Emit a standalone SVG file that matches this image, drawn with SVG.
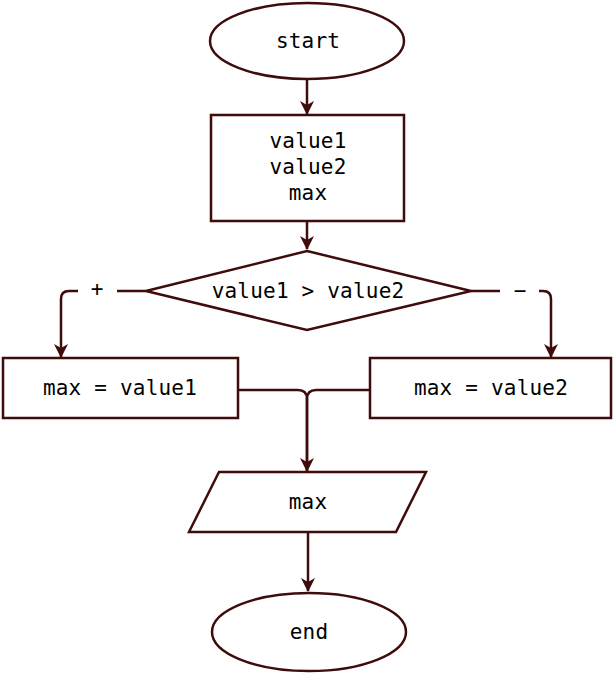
<svg xmlns="http://www.w3.org/2000/svg" width="613" height="673" viewBox="0 0 613 673">
<defs>
<style>
.s{fill:#fff;stroke:#3f0b0b;stroke-width:2.5}
.c{fill:none;stroke:#3f0b0b;stroke-width:2.5}
.t{font-family:"DejaVu Sans Mono","Liberation Mono",monospace;font-size:21px;letter-spacing:0.2px;fill:#000;text-anchor:middle;dominant-baseline:central}
</style>
<marker id="a" viewBox="0 0 14 14" refX="13" refY="7" markerWidth="15" markerHeight="14" markerUnits="userSpaceOnUse" orient="auto">
<path d="M0,0 L14,7 L0,14 L4,7 Z" fill="#3f0b0b"/>
</marker>
</defs>
<rect width="613" height="673" fill="#fff"/>
<g id="connectors">
<path class="c" d="M307,80 V114" marker-end="url(#a)"/>
<path class="c" d="M307,222 V249" marker-end="url(#a)"/>
<path class="c" d="M146,291 H69 Q61,291 61,299 V357" marker-end="url(#a)"/>
<path class="c" d="M471,291 H543 Q551,291 551,299 V357" marker-end="url(#a)"/>
<path class="c" d="M238,390 H298 Q307,390 307,399 V471" marker-end="url(#a)"/>
<path class="c" d="M370,390 H316 Q307,390 307,399 V471"/>
<path class="c" d="M308,532 V591" marker-end="url(#a)"/>
<rect x="78" y="280" width="39" height="22" fill="#fff"/>
<text class="t" x="97" y="289" style="letter-spacing:0">+</text>
<rect x="500" y="280" width="39" height="22" fill="#fff"/>
<text class="t" x="520" y="291" style="letter-spacing:0">−</text>
</g>
<g id="start">
<ellipse class="s" cx="307" cy="41" rx="97" ry="38"/>
<text class="t" x="308" y="41">start</text>
</g>
<g id="vars">
<rect class="s" x="211" y="115" width="193" height="106"/>
<text class="t" x="308" y="141">value1</text>
<text class="t" x="308" y="167">value2</text>
<text class="t" x="308" y="193">max</text>
</g>
<g id="cond">
<polygon class="s" points="307,251 471,291 307,330 146,291"/>
<text class="t" x="308" y="291">value1 &gt; value2</text>
</g>
<g id="left">
<rect class="s" x="3" y="358" width="235" height="60"/>
<text class="t" x="120" y="388">max = value1</text>
</g>
<g id="right">
<rect class="s" x="370" y="358" width="241" height="60"/>
<text class="t" x="491" y="388">max = value2</text>
</g>
<g id="out">
<polygon class="s" points="219,472 426,472 396,532 189,532"/>
<text class="t" x="308" y="502">max</text>
</g>
<g id="end">
<ellipse class="s" cx="309" cy="632" rx="97" ry="39"/>
<text class="t" x="309" y="632">end</text>
</g>
</svg>
